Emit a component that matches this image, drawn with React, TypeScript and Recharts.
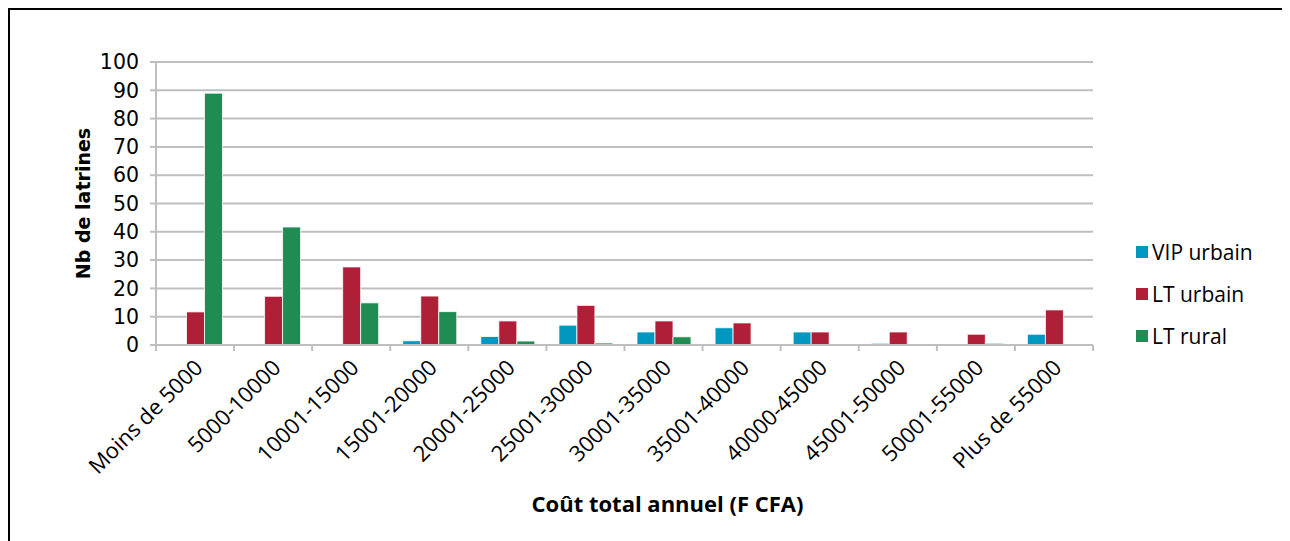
import React from "react";
import { BarChart, Bar, XAxis, YAxis, CartesianGrid, Label } from "recharts";

const categories = [
  "Moins de 5000", "5000-10000", "10001-15000", "15001-20000", "20001-25000", "25001-30000",
  "30001-35000", "35001-40000", "40000-45000", "45001-50000", "50001-55000", "Plus de 55000",
];
const vipUrbain = [0, 0, 0, 1.5, 3, 7, 4.6, 6.1, 4.6, 0.6, 0, 3.8];
const ltUrbain = [11.7, 17.2, 27.6, 17.3, 8.5, 14, 8.5, 7.8, 4.6, 4.6, 3.8, 12.4];
const ltRural = [89, 41.7, 14.9, 11.8, 1.4, 0.7, 2.9, 0, 0, 0, 0.6, 0];
const yTicks = [0, 10, 20, 30, 40, 50, 60, 70, 80, 90, 100];

const seriesNames = ["VIP urbain", "LT urbain", "LT rural"];
const colors = ["#0098C1", "#B01F38", "#1F8C53"];

const data = categories.map((c, i) => ({
  cat: c,
  vip: vipUrbain[i],
  ltu: ltUrbain[i],
  ltr: ltRural[i],
}));

const W = 1274;
const H = 533;
const margin = { top: 52, right: 191, left: 0, bottom: 0 };
const Y_W = 146;
const X_H = 198;
const plotW = W - margin.left - margin.right - Y_W;
const band = plotW / categories.length;

const XTick = (props: any) => {
  const { x, y, payload, index } = props;
  const isLast = index === categories.length - 1;
  const tx = x + 9;
  const ty = y + 16;
  return (
    <g>
      <line x1={x - band / 2} x2={x - band / 2} y1={y - 8} y2={y - 2} stroke="#BFBFBF" strokeWidth={2} />
      {isLast && <line x1={x + band / 2} x2={x + band / 2} y1={y - 8} y2={y - 2} stroke="#BFBFBF" strokeWidth={2} />}
      <text
        x={tx}
        y={ty}
        transform={`rotate(-45, ${tx}, ${ty})`}
        textAnchor="end"
        fontFamily="'Open Sans', sans-serif"
        fontSize={22}
        fill="#000"
      >
        {payload.value}
      </text>
    </g>
  );
};

export default function App() {
  return (
    <div style={{ width: W, height: 545, border: "2px solid #000", position: "relative", background: "#fff" }}>
      <BarChart
        width={W}
        height={H}
        data={data}
        margin={margin}
        barCategoryGap="16%"
        barGap={0}
      >
        <CartesianGrid vertical={false} stroke="#BFBFBF" strokeWidth={2} />
        <XAxis
          dataKey="cat"
          height={X_H}
          interval={0}
          tickLine={false}
          axisLine={{ stroke: "#BFBFBF", strokeWidth: 2 }}
          tick={<XTick />}
        >
          <Label
            value="Coût total annuel (F CFA)"
            position="insideBottom"
            offset={31}
            dx={43}
            style={{ fontFamily: "'Open Sans', sans-serif", fontSize: 22, fontWeight: 700, fill: "#000" }}
          />
        </XAxis>
        <YAxis
          width={Y_W}
          domain={[0, 100]}
          ticks={yTicks}
          interval={0}
          tickSize={6}
          tickMargin={11}
          tickLine={{ stroke: "#BFBFBF", strokeWidth: 2 }}
          axisLine={{ stroke: "#BFBFBF", strokeWidth: 2 }}
          tick={{ fontFamily: "'DejaVu Sans', sans-serif", fontSize: 20.5, fill: "#000" }}
        >
          <Label
            value="Nb de latrines"
            angle={-90}
            position="center"
            dx={0}
            style={{ fontFamily: "'DejaVu Sans', sans-serif", fontSize: 19, fontWeight: 700, fill: "#000", textAnchor: "middle" }}
          />
        </YAxis>
        <Bar dataKey="vip" name={seriesNames[0]} fill={colors[0]} stroke="#fff" strokeWidth={0.8} isAnimationActive={false} />
        <Bar dataKey="ltu" name={seriesNames[1]} fill={colors[1]} stroke="#fff" strokeWidth={0.8} isAnimationActive={false} />
        <Bar dataKey="ltr" name={seriesNames[2]} fill={colors[2]} stroke="#fff" strokeWidth={0.8} isAnimationActive={false} />
      </BarChart>
      <div style={{ position: "absolute", left: 1126, top: 221, fontFamily: "'Open Sans', sans-serif", fontSize: 21, color: "#000" }}>
        {seriesNames.map((n, i) => (
          <div key={n} style={{ display: "flex", alignItems: "center", height: 42 }}>
            <span style={{ display: "inline-block", width: 12, height: 12, background: colors[i], marginRight: 4 }} />
            <span>{n}</span>
          </div>
        ))}
      </div>
    </div>
  );
}
